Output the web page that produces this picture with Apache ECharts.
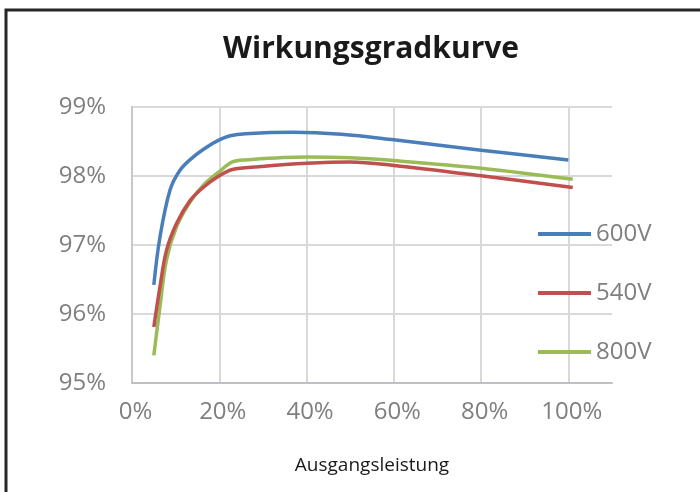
<!DOCTYPE html>
<html>
<head>
<meta charset="utf-8">
<title>Wirkungsgradkurve</title>
<script src="https://cdn.jsdelivr.net/npm/echarts@6/dist/echarts.min.js"></script>
<style>
  html, body { margin: 0; padding: 0; background: #fff; }
  #chart { width: 700px; height: 492px; }
</style>
</head>
<body>
<div id="chart"></div>
<script>
// Ausgangsleistung (%) und Wirkungsgrad (%) je Spannung
const seriesNames = ['600V', '540V', '800V'];

const load600 = [5, 6.4, 8.7, 11, 14, 17, 20, 22.5, 26, 37, 48, 60, 80, 100];
const eff600 = [96.42, 97.11, 97.79, 98.08, 98.27, 98.41, 98.52, 98.58, 98.61, 98.63, 98.6, 98.52, 98.37, 98.23];

const load540 = [5, 6.4, 7.9, 10.2, 13.3, 16.3, 20, 23, 29, 40, 50, 60, 80, 101];
const eff540 = [95.81, 96.39, 96.92, 97.31, 97.64, 97.83, 98.0, 98.09, 98.13, 98.18, 98.2, 98.15, 98.0, 97.83];

const load800 = [5, 6.4, 7.9, 10.2, 13.3, 16.3, 20, 23, 26, 40, 50, 60, 80, 101];
const eff800 = [95.4, 96.1, 96.78, 97.26, 97.62, 97.86, 98.06, 98.2, 98.23, 98.27, 98.26, 98.22, 98.11, 97.95];

const colors = ['#4a7ebb', '#c0504d', '#9bbb59'];

const pairs = (xs, ys) => xs.map((x, i) => [x, ys[i]]);
const seriesData = [pairs(load600, eff600), pairs(load540, eff540), pairs(load800, eff800)];

const font = '"Open Sans", "Noto Sans", sans-serif';
const chart = echarts.init(document.getElementById('chart'));

chart.setOption({
  animation: false,
  color: colors,
  title: {
    text: 'Wirkungsgradkurve',
    left: 223,
    top: 30,
    padding: 0,
    textStyle: { fontFamily: font, fontSize: 30, fontWeight: 'bold', color: '#1a1a1a', lineHeight: 38 },
  },
  graphic: [
    {
      type: 'rect',
      shape: { x: 6, y: 10, width: 740, height: 540 },
      style: { fill: 'none', stroke: '#262626', lineWidth: 3 },
      silent: true,
    },
  ],
  legend: {
    orient: 'vertical',
    left: 538,
    top: 219,
    padding: 0,
    icon: 'rect',
    itemWidth: 53,
    itemHeight: 4,
    itemGap: 29,
    data: seriesNames,
    textStyle: { fontFamily: font, fontSize: 24, color: '#7f7f7f', lineHeight: 30 },
  },
  grid: { left: 132, top: 106.7, right: 88, bottom: 109 },
  xAxis: {
    type: 'value',
    min: 0,
    max: 110,
    interval: 20,
    name: 'Ausgangsleistung',
    nameLocation: 'middle',
    nameGap: 73,
    nameTextStyle: { fontFamily: font, fontSize: 19, color: '#1a1a1a' },
    axisLine: { show: true, lineStyle: { color: '#bfbfc4', width: 2 } },
    axisTick: { show: false },
    axisLabel: {
      formatter: (v) => v + '%',
      showMaxLabel: false,
      margin: 17,
      padding: [0, 0, 0, 7],
      fontFamily: font,
      fontSize: 24,
      color: '#7f7f7f',
    },
    splitLine: { show: true, showMaxLine: false, lineStyle: { color: '#d9d9d9', width: 2 } },
  },
  yAxis: {
    type: 'value',
    min: 95,
    max: 99,
    interval: 1,
    axisLine: { show: true, lineStyle: { color: '#c8c8cc', width: 2 } },
    axisTick: { show: false },
    axisLabel: {
      formatter: (v) => v + '%',
      margin: 26,
      fontFamily: font,
      fontSize: 24,
      color: '#7f7f7f',
    },
    splitLine: { show: true, lineStyle: { color: '#d9d9d9', width: 2 } },
  },
  series: seriesNames.map((name, i) => ({
    name,
    type: 'line',
    data: seriesData[i],
    smooth: 0.35,
    showSymbol: false,
    symbol: 'none',
    lineStyle: { width: 3.5, color: colors[i] },
    z: 3 - i,
  })),
});
</script>
</body>
</html>
